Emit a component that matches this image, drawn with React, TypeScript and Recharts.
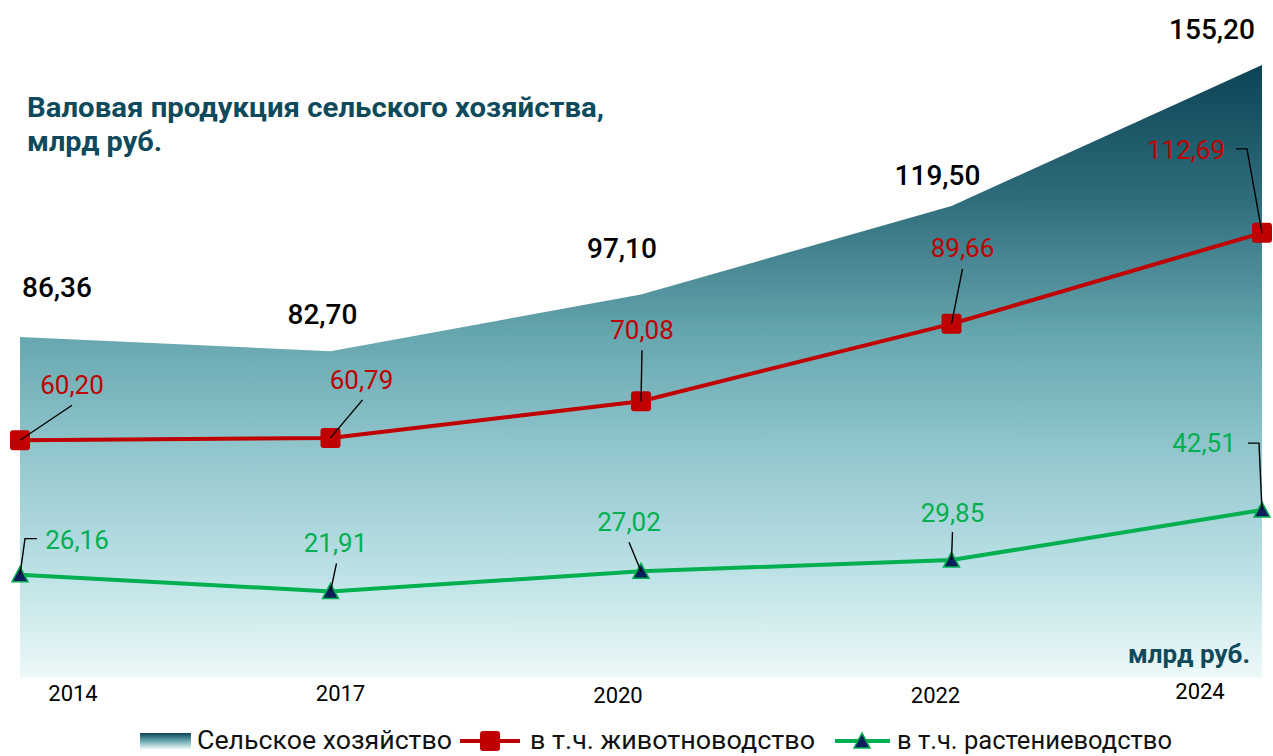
import React from 'react';
import { ComposedChart, Area, Line, XAxis, YAxis, LabelList, Legend } from 'recharts';

const years = ['2014', '2017', '2020', '2022', '2024'];
const totalValues = [86.36, 82.7, 97.1, 119.5, 155.2];
const livestockValues = [60.2, 60.79, 70.08, 89.66, 112.69];
const cropValues = [26.16, 21.91, 27.02, 29.85, 42.51];

const seriesNames = ['Сельское хозяйство', 'в т.ч. животноводство', 'в т.ч. растениеводство'];
const titleLines = ['Валовая продукция сельского хозяйства,', 'млрд руб.'];
const unitLabel = 'млрд руб.';

const data = years.map((y, i) => ({
  year: y,
  total: totalValues[i],
  livestock: livestockValues[i],
  crops: cropValues[i],
}));

// styling: label offsets relative to the data point
const totalLabelOffsets = [[37, -49], [-8, -37], [-19, -46], [-14, -30], [-50, -35]];
const livestockLabelOffsets = [[52, -55], [31, -58], [1, -71], [11, -76], [-76, -83]];
const livestockLeaders = [
  [[52, -35]],
  [[32, -38]],
  [[1, -51]],
  [[11, -55]],
  [[-15, -84], [-26, -84]],
];
const cropLabelOffsets = [[57, -35], [5, -48], [-12, -49], [1, -47], [-58, -67]];
const cropLeaders = [
  [[5, -36], [17, -36]],
  [[6, -28]],
  [[-12, -29]],
  [[1, -28]],
  [[-3, -67], [-14, -67]],
];
const tickOffsets = [[53, 15], [10, 15], [-23, 17], [-16, 17], [-62, 13]];

const RED = '#c00000';
const GREEN = '#00b050';
const NAVY = '#0b1f5c';
const TEAL_TEXT = '#0f4a5c';
const FONT = 'Roboto, "Noto Sans", sans-serif';

const fmt = (v: number) => v.toFixed(2).replace('.', ',');

const makeLabel = (offsets: number[][], leaders: number[][][] | null, color: string, size: number, weight: number) =>
  (props: any) => {
    const { x, y, value, index } = props;
    if (x == null || y == null) return null;
    const off = offsets[index] || [0, -20];
    const pts = leaders ? leaders[index] : null;
    let path = '';
    if (pts) {
      path = `M${x},${y}` + pts.map((p) => ` L${x + p[0]},${y + p[1]}`).join('');
    }
    return (
      <g key={`lbl-${index}`}>
        {pts && <path d={path} stroke="#000" strokeWidth={1.4} fill="none" />}
        <text
          x={x + off[0]}
          y={y + off[1]}
          textAnchor="middle"
          dominantBaseline="central"
          fill={color}
          fontSize={size}
          fontWeight={weight}
          fontFamily={FONT}
        >
          {fmt(Number(value))}
        </text>
      </g>
    );
  };

const SquareDot = (props: any) => {
  const { cx, cy, index } = props;
  if (cx == null || cy == null) return null;
  return <rect key={`sq-${index}`} x={cx - 10} y={cy - 10} width={20} height={20} rx={3} ry={3} fill={RED} />;
};

const TriangleDot = (props: any) => {
  const { cx, cy, index } = props;
  if (cx == null || cy == null) return null;
  return (
    <path
      key={`tr-${index}`}
      d={`M${cx},${cy - 8} L${cx + 8},${cy + 7} L${cx - 8},${cy + 7} Z`}
      fill={NAVY}
      stroke={GREEN}
      strokeWidth={1.5}
    />
  );
};

const YearTick = (props: any) => {
  const { x, y, payload, index } = props;
  const off = tickOffsets[index] || [0, 15];
  return (
    <text
      x={x + off[0]}
      y={y + off[1]}
      textAnchor="middle"
      dominantBaseline="central"
      fill="#000"
      fontSize={22}
      fontFamily={FONT}
    >
      {payload.value}
    </text>
  );
};

const LegendContent = () => (
  <svg width={1273} height={38} style={{ display: 'block' }}>
    <defs>
      <linearGradient id="legGrad" x1="0" y1="0" x2="0" y2="1">
        <stop offset="0%" stopColor="#0c4356" />
        <stop offset="50%" stopColor="#6aa9b1" />
        <stop offset="100%" stopColor="#eef9f9" />
      </linearGradient>
    </defs>
    <rect x={140} y={17} width={51} height={16} fill="url(#legGrad)" />
    <text x={197} y={33} fontSize={25} fontFamily={FONT} fill="#111" textLength={255} lengthAdjust="spacingAndGlyphs">
      {seriesNames[0]}
    </text>
    <line x1={460} y1={25} x2={520} y2={25} stroke={RED} strokeWidth={4} />
    <rect x={480} y={15} width={20} height={20} rx={3} fill={RED} />
    <text x={530} y={33} fontSize={25} fontFamily={FONT} fill="#111" textLength={285} lengthAdjust="spacingAndGlyphs">
      {seriesNames[1]}
    </text>
    <line x1={835} y1={25} x2={890} y2={25} stroke={GREEN} strokeWidth={4} />
    <path d="M862,17 L870,32 L854,32 Z" fill={NAVY} stroke={GREEN} strokeWidth={1.5} />
    <text x={897} y={33} fontSize={25} fontFamily={FONT} fill="#111" textLength={275} lengthAdjust="spacingAndGlyphs">
      {seriesNames[2]}
    </text>
  </svg>
);

export default function App() {
  return (
    <div style={{ position: 'absolute', left: 0, top: 0, width: 1273, height: 756, background: '#fff' }}>
      <ComposedChart
        width={1273}
        height={756}
        data={data}
        margin={{ top: 46, right: 11, bottom: 38, left: 20 }}
      >
        <defs>
          <linearGradient id="areaGrad" x1="0" y1="0" x2="0" y2="1">
            <stop offset="0%" stopColor="#0c4356" />
            <stop offset="22%" stopColor="#2f6d7c" />
            <stop offset="44%" stopColor="#66a6ae" />
            <stop offset="61%" stopColor="#8dc3ca" />
            <stop offset="83%" stopColor="#bde2e6" />
            <stop offset="100%" stopColor="#eef9f9" />
          </linearGradient>
        </defs>
        <XAxis
          dataKey="year"
          height={40}
          axisLine={false}
          tickLine={false}
          tickSize={0}
          tickMargin={0}
          interval={0}
          tick={<YearTick />}
        />
        <YAxis hide domain={[0, 160]} />
        <Legend
          layout="horizontal"
          verticalAlign="middle"
          align="center"
          content={<LegendContent />}
          wrapperStyle={{ position: 'absolute', top: 716, left: 0, width: 1273, height: 38 }}
        />
        <Area
          type="linear"
          dataKey="total"
          name={seriesNames[0]}
          stroke="none"
          fill="url(#areaGrad)"
          fillOpacity={1}
          isAnimationActive={false}
        >
          <LabelList dataKey="total" content={makeLabel(totalLabelOffsets, null, '#000', 28, 500)} />
        </Area>
        <Line
          type="linear"
          dataKey="livestock"
          name={seriesNames[1]}
          stroke={RED}
          strokeWidth={4}
          dot={<SquareDot />}
          activeDot={false}
          isAnimationActive={false}
        >
          <LabelList dataKey="livestock" content={makeLabel(livestockLabelOffsets, livestockLeaders, RED, 26, 400)} />
        </Line>
        <Line
          type="linear"
          dataKey="crops"
          name={seriesNames[2]}
          stroke={GREEN}
          strokeWidth={4}
          dot={<TriangleDot />}
          activeDot={false}
          isAnimationActive={false}
        >
          <LabelList dataKey="crops" content={makeLabel(cropLabelOffsets, cropLeaders, GREEN, 26, 400)} />
        </Line>
      </ComposedChart>
      <svg
        width={1273}
        height={756}
        style={{ position: 'absolute', left: 0, top: 0, pointerEvents: 'none' }}
      >
        <text x={27} y={117} fontSize={28} fontWeight={700} fontFamily={FONT} fill={TEAL_TEXT} textLength={577} lengthAdjust="spacingAndGlyphs">
          {titleLines[0]}
        </text>
        <text x={27} y={151} fontSize={28} fontWeight={700} fontFamily={FONT} fill={TEAL_TEXT} textLength={135} lengthAdjust="spacingAndGlyphs">
          {titleLines[1]}
        </text>
        <text x={1250} y={663} textAnchor="end" fontSize={26} fontWeight={700} fontFamily={FONT} fill={TEAL_TEXT} textLength={122} lengthAdjust="spacingAndGlyphs">
          {unitLabel}
        </text>
      </svg>
    </div>
  );
}
